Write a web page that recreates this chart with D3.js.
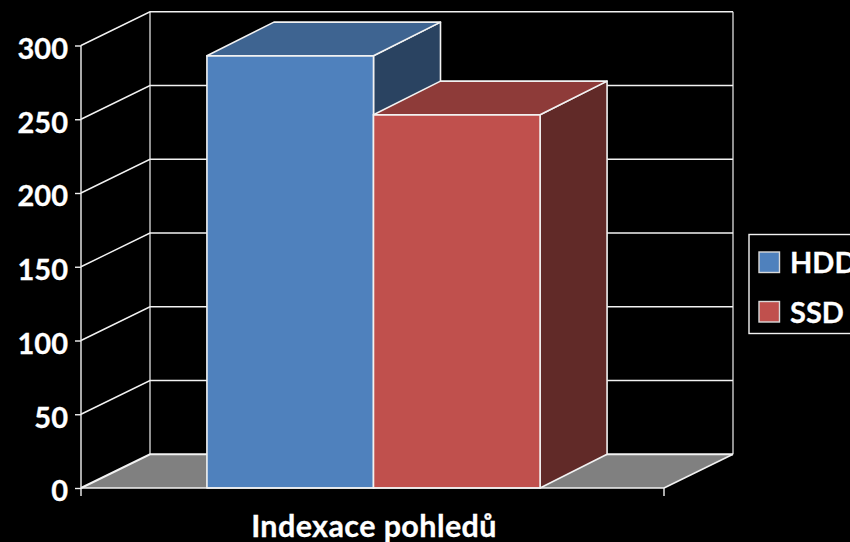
<!DOCTYPE html>
<html>
<head>
<meta charset="utf-8">
<script src="https://cdn.jsdelivr.net/npm/d3@7"></script>
<style>
html,body{margin:0;padding:0;background:#000;overflow:hidden}
svg{display:block}
text{font-family:Lato,"Open Sans",sans-serif;font-weight:700;fill:#fff;stroke:#fff;stroke-width:.3px}
</style>
</head>
<body>
<svg id="chart" width="850" height="542"></svg>
<script>
// Benchmark results
const categories = ["Indexace pohledů"];
const seriesNames = ["HDD", "SSD"];
const hddValues = [293];
const ssdValues = [253];
const yTicks = [0, 50, 100, 150, 200, 250, 300];

const frontColors = {HDD: "#4f81bd", SSD: "#c0504d"};
const topColors = {HDD: "#3e6491", SSD: "#8e3b39"};
const sideColors = {HDD: "#2a4361", SSD: "#612a28"};
const valuesBySeries = {HDD: hddValues, SSD: ssdValues};

const plotLeft = 81, plotRight = 664, plotBottom = 488, plotTop = 45.5;
const depthX = 69, depthY = -33.7, barDepthX = 67;
const lineColor = "#f2f2f2";

const svg = d3.select("#chart");
const y = d3.scaleLinear().domain([0, 300]).range([plotBottom, plotTop]);
const x0 = d3.scaleBand().domain(categories).range([plotLeft, plotRight]);
const x1 = d3.scaleBand().domain(seriesNames)
  .range([x0(categories[0]), x0(categories[0]) + x0.bandwidth()])
  .paddingOuter(0.75).paddingInner(0).align(0.504);

const poly = pts => pts.map(p => p.join(",")).join(" ");

// Floor of the 3D box
svg.append("polygon")
  .attr("points", poly([[plotLeft, plotBottom], [plotRight, plotBottom], [plotRight + depthX, plotBottom + depthY], [plotLeft + depthX, plotBottom + depthY]]))
  .attr("fill", "#808080");

// Gridlines run along the side wall and the back wall
const grid = svg.append("g").attr("fill", "none").attr("stroke", lineColor);
yTicks.forEach(t => {
  grid.append("polyline")
    .attr("points", poly([[plotLeft, y(t)], [plotLeft + depthX, y(t) + depthY], [plotRight + depthX, y(t) + depthY]]))
    .attr("stroke-width", t === 0 ? 2 : 1.4);
});
grid.append("line").attr("x1", plotLeft + depthX).attr("x2", plotLeft + depthX)
  .attr("y1", y(300) + depthY).attr("y2", y(0) + depthY).attr("stroke-width", 1.2);
grid.append("line").attr("x1", plotRight + depthX).attr("x2", plotRight + depthX)
  .attr("y1", y(300) + depthY).attr("y2", y(0) + depthY).attr("stroke-width", 1.2);
grid.append("line").attr("x1", plotRight).attr("x2", plotRight + depthX)
  .attr("y1", y(0)).attr("y2", y(0) + depthY).attr("stroke-width", 1.6);

// Bars: each one has a front, a top and a right side
const bars = svg.append("g").attr("stroke", lineColor).attr("stroke-width", 1.6).attr("stroke-linejoin", "round");
seriesNames.forEach(name => {
  const value = valuesBySeries[name][0];
  const xa = x1(name), xb = xa + x1.bandwidth();
  const yt = y(value), yb = y(0);
  const g = bars.append("g");
  g.append("polygon")
    .attr("points", poly([[xb, yt], [xb + barDepthX, yt + depthY], [xb + barDepthX, yb + depthY], [xb, yb]]))
    .attr("fill", sideColors[name]);
  g.append("polygon")
    .attr("points", poly([[xa, yt], [xb, yt], [xb + barDepthX, yt + depthY], [xa + barDepthX, yt + depthY]]))
    .attr("fill", topColors[name]);
  g.append("rect")
    .attr("x", xa).attr("y", yt)
    .attr("width", xb - xa).attr("height", yb - yt)
    .attr("fill", frontColors[name]);
});

// Value axis
const yAxis = d3.axisLeft(y).tickValues(yTicks).tickSize(6).tickPadding(7).tickFormat(d3.format("d"));
const yG = svg.append("g").attr("transform", `translate(${plotLeft},0)`).call(yAxis);
yG.select(".domain").attr("stroke", lineColor).attr("stroke-width", 1.4).attr("d", `M0,${plotTop}V${plotBottom}`);
yG.selectAll(".tick line").attr("stroke", lineColor).attr("stroke-width", 1.4);
yG.selectAll("text").attr("font-size", 29).attr("font-family", "Lato").attr("dy", "0.44em");

// Category axis
const xAxis = d3.axisBottom(x0).tickSize(0);
const xG = svg.append("g").attr("transform", `translate(0,${plotBottom})`).call(xAxis);
xG.select(".domain").attr("stroke", lineColor).attr("stroke-width", 1.4).attr("d", `M${plotLeft},0H${plotRight}`);
xG.selectAll("text")
  .attr("font-size", 30.5).attr("font-family", "Lato").attr("letter-spacing", 0.4)
  .attr("x", 1.5).attr("y", 48.5).attr("dy", 0);
[plotLeft, plotRight].forEach(px => {
  xG.append("line").attr("x1", px).attr("x2", px).attr("y1", 0).attr("y2", 8)
    .attr("stroke", lineColor).attr("stroke-width", 1.4);
});

// Legend, running off the right edge
const legend = svg.append("g");
legend.append("rect").attr("x", 749).attr("y", 234.5).attr("width", 120).attr("height", 99)
  .attr("fill", "#000").attr("stroke", lineColor).attr("stroke-width", 1.4);
const legendY = d3.scalePoint().domain(seriesNames).range([262, 311.5]);
seriesNames.forEach(name => {
  const cy = legendY(name);
  legend.append("rect").attr("x", 759).attr("y", cy - 10).attr("width", 20.5).attr("height", 20.5)
    .attr("fill", frontColors[name]).attr("stroke", "#d9d9d9").attr("stroke-width", 1.4);
  legend.append("text").attr("x", 790).attr("y", cy + 11).attr("font-size", 29).text(name);
});
</script>
</body>
</html>
